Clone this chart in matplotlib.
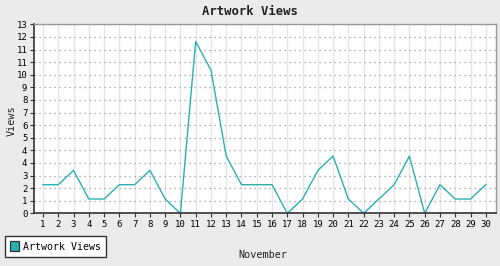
import numpy as np
import matplotlib
matplotlib.use("Agg")
import matplotlib.pyplot as plt
from matplotlib.patches import Patch

# ---- data ----
days = list(range(1, 31))
views = [2, 2, 3, 1, 1, 2, 2, 3, 1, 0, 12, 10, 4, 2, 2,
         2, 0, 1, 3, 4, 1, 0, 1, 2, 4, 0, 2, 1, 1, 2]
series_name = "Artwork Views"
title = "Artwork Views"
x_label = "November"
y_label = "Views"

LINE = "#2bb0b0"
BG = "#ebebeb"
MONO = "DejaVu Sans Mono"

plt.rcParams["font.family"] = MONO

fig = plt.figure(figsize=(5.0, 2.66), dpi=100, facecolor=BG)
ax = fig.add_axes([0.0686, 0.198, 0.9228, 0.7105])
ax.set_facecolor("white")

ax.plot(days, views, color=LINE, lw=1.0)

# y axis: 15 steps up to 1.1 * max, labels rounded
ymax = max(views) * 1.1
yticks = np.linspace(0, ymax, 16)
ax.set_ylim(0, ymax)
ax.set_yticks(yticks)
ax.set_yticklabels([str(int(round(v))) for v in yticks])
ax.set_xlim(0.43, 30.65)
ax.set_xticks(days)
ax.set_xticklabels([str(d) for d in days])

ax.grid(axis="x", color="#e6e6e6", lw=1.0, ls="-")
ax.grid(axis="y", color="#999999", lw=0.9, ls=(0, (1, 3)))
ax.set_axisbelow(True)

ax.tick_params(axis="both", labelsize=6.5, length=3, width=0.8,
               color="#333333", pad=2)
for side in ("left", "bottom"):
    ax.spines[side].set_color("#333333")
    ax.spines[side].set_linewidth(1.2)
for side in ("top", "right"):
    ax.spines[side].set_color("#999999")
    ax.spines[side].set_linewidth(1.0)

fig.text(0.5, 0.955, title, ha="center", va="center",
         fontsize=8.8, fontweight="bold", color="#222222")
fig.text(0.526, 0.04, x_label, ha="center", va="center",
         fontsize=7.3, color="#222222")
fig.text(0.024, 0.545, y_label, ha="center", va="center",
         rotation=90, fontsize=7.3, color="#222222")

handle = Patch(facecolor=LINE, edgecolor="#333333", linewidth=0.9)
leg = fig.legend([handle], [series_name], loc="lower left",
                 bbox_to_anchor=(0.01, 0.035), frameon=True, fancybox=False,
                 fontsize=7.1, handlelength=0.9, handleheight=1.2,
                 handletextpad=0.45, borderpad=0.5, borderaxespad=0)
leg.get_frame().set_edgecolor("#333333")
leg.get_frame().set_linewidth(1.0)
leg.get_frame().set_facecolor("white")
leg.get_frame().set_alpha(1.0)

fig.savefig("out.png", dpi=100, facecolor=BG)
